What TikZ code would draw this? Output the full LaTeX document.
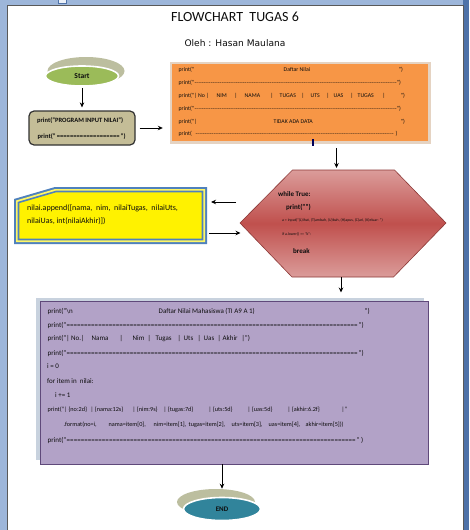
\documentclass[tikz,border=0pt]{standalone}
\usepackage{fontspec}
\setmainfont{Carlito}
\newfontfamily\dejavu{DejaVu Sans}
\usetikzlibrary{arrows.meta,shapes.geometric,calc}
\definecolor{framebl}{HTML}{9DB6DA}
\definecolor{framedk}{HTML}{4E72A8}
\definecolor{startg}{HTML}{9BBB59}
\definecolor{shad}{HTML}{BCBE9F}
\definecolor{tanc}{HTML}{C4BD97}
\definecolor{orng}{HTML}{F79646}
\definecolor{beige}{HTML}{E5D3C2}
\definecolor{hexmid}{HTML}{C0504D}
\definecolor{hexlt}{HTML}{DB9C9A}
\definecolor{hexbd}{HTML}{8C3836}
\definecolor{ybl}{HTML}{4F81BD}
\definecolor{purp}{HTML}{B2A2C7}
\definecolor{purbd}{HTML}{5F497A}
\definecolor{pshad}{HTML}{C8D2DE}
\definecolor{tealc}{HTML}{31849B}
\definecolor{txt}{HTML}{0D0D0D}
\newcommand\po[2]{\rlap{\hspace*{#1pt}#2}}
\newcommand\fillc[2]{\xleaders\hbox{#2}\hskip #1pt\relax}
\newcommand\fo{\fontsize{5.8}{6.5}\selectfont}
\newcommand\fp{\fontsize{7}{8}\selectfont}
\newcommand\fps{\fontsize{6.2}{7}\selectfont}
\tikzset{
  tl/.style={anchor=west, inner sep=0pt, text=txt},
  arr/.style={-{Stealth[length=5pt,width=4.5pt]}, line width=0.9pt, black},
}
\begin{document}
\begin{tikzpicture}[x=1pt,y=-1pt]
\useasboundingbox (0,0) rectangle (469,530);
% window frame
\fill[framebl] (0,0) rectangle (469,530);
\fill[framedk] (463,0) rectangle (469,530);
\fill[white] (8,6) rectangle (463,530);
\draw[black!65, line width=0.7pt] (7.6,530) -- (7.6,5.6) -- (463.4,5.6) -- (463.4,530);
\draw[framedk, fill=white!80!framebl, line width=0.6pt] (58.5,-1) rectangle (66.5,3);

% titles
\node[text=txt, font=\fontsize{14}{15}\selectfont] (title) at (235,17) {FLOWCHART\ \ TUGAS 6};
\node[text=txt, font=\dejavu\fontsize{9.1}{10}\selectfont] (oleh) at (235,43.5) {Oleh : Hasan Maulana};

% start
\node[ellipse, fill=shad, minimum width=77pt, minimum height=28pt, inner sep=0pt] (startsh) at (86,71) {};
\node[ellipse, fill=startg, draw=white, line width=1.6pt, minimum width=73pt, minimum height=20pt, inner sep=0pt,
      text=txt, font=\bfseries\fontsize{7.5}{8}\selectfont] (start) at (82,76) {Start};

% input box
\node[draw=black!80, line width=1.2pt, rounded corners=5pt, fill=tanc, minimum width=106pt, minimum height=34pt, inner sep=0pt] (inbox) at (82,128) {};
\node[tl, font=\bfseries\fontsize{6.5}{7}\selectfont] (i1) at (37,121) {print("PROGRAM INPUT NILAI")};
\node[tl, font=\bfseries\fontsize{6.5}{7}\selectfont] (i2) at (37,137) {\po{0}{print("}\po{19}{\fillc{63}{=}}\po{83}{")}};

% orange box
\node[fill=beige, minimum width=261pt, minimum height=82pt, inner sep=0pt] (orangesh) at (300.5,103) {};
\node[fill=orng, minimum width=256pt, minimum height=77pt, inner sep=0pt] (orange) at (300,102.5) {};
\node[tl, font=\fo] (o1) at (178,70) {\po{0}{print("}\po{105}{Daftar Nilai}\po{220}{")}};
\node[tl, font=\fo] (o2) at (178,83) {\po{0}{print("}\po{16}{\fillc{202}{-}}\po{218}{")}};
\node[tl, font=\fo] (o3) at (178,96) {\po{0}{print("| No\ |}\po{38}{NIM}\po{56}{|}\po{66}{NAMA}\po{92}{|}\po{101}{TUGAS}\po{123}{|}\po{132}{UTS}\po{148}{|}\po{155}{UAS}\po{172}{|}\po{179}{TUGAS}\po{204}{|}\po{222}{")}};
\node[tl, font=\fo] (o4) at (178,108.5) {\po{0}{print("}\po{16}{\fillc{202}{-}}\po{218}{")}};
\node[tl, font=\fo] (o5) at (178,121.5) {\po{0}{print("|}\po{95}{TIDAK ADA DATA}\po{222}{")}};
\node[tl, font=\fo] (o6) at (178,134) {\po{0}{print(}\po{17}{\fillc{198}{-}}\po{217}{)}};
\draw[blue!35!black, line width=1.3pt] (313,139) -- (313,146);

% hexagon
\coordinate (hA) at (240,223);
\coordinate (hB) at (292.5,170);
\coordinate (hC) at (394.5,170);
\coordinate (hD) at (446,223);
\coordinate (hE) at (393.5,277);
\coordinate (hF) at (292,277);
\shade[top color=hexlt, bottom color=hexlt, middle color=hexmid] (hA) -- (hB) -- (hC) -- (hD) -- (hE) -- (hF) -- cycle;
\draw[hexbd, line width=0.6pt] (hA) -- (hB) -- (hC) -- (hD) -- (hE) -- (hF) -- cycle;
\node[inner sep=0pt] (hex) at (343,223) {};
\node[tl, font=\bfseries\fontsize{7}{8}\selectfont] (h1) at (278,194) {while True:};
\node[tl, font=\bfseries\fontsize{7}{8}\selectfont] (h2) at (286,207) {print("")};
\node[tl, font=\fontsize{3.9}{4.5}\selectfont] (h3) at (282,220.5) {a = input("(L)ihat, (T)ambah, (U)bah, (H)apus, (C)ari, (K)eluar: ")};
\node[tl, font=\fontsize{3.9}{4.5}\selectfont] (h4) at (282,234) {if a.lower() == "k":};
\node[tl, font=\bfseries\fontsize{7}{8}\selectfont] (h5) at (293,251) {break};

% yellow box
\fill[ybl] (14,199) -- (55,187) -- (207,187) -- (207,244) -- (14,244) -- cycle;
\fill[white!40!yellow] (16,200.5) -- (55.3,189) -- (205,189) -- (205,242) -- (16,242) -- cycle;
\draw[ybl, line width=1.6pt, fill=yellow] (18.5,202.5) -- (56,191.5) -- (202.5,191.5) -- (202.5,239.5) -- (18.5,239.5) -- cycle;
\node[inner sep=0pt] (yel) at (110,215) {};
\node[tl, font=\fontsize{8}{9}\selectfont] (y1) at (27,208) {nilai.append([nama,\ \ nim,\ \ nilaiTugas,\ \ nilaiUts,};
\node[tl, font=\fontsize{8}{9}\selectfont] (y2) at (27,221) {nilaiUas, int(nilaiAkhir)])};

% purple box
\fill[pshad] (36,298) rectangle (424,460);
\node[draw=purbd, line width=1pt, fill=purp, minimum width=388pt, minimum height=163pt, inner sep=0pt] (purple) at (234,382.5) {};
\node[tl, font=\fp] (p1) at (47,311) {\po{0}{print("\textbackslash n}\po{111}{Daftar Nilai Mahasiswa (TI A9 A 1)}\po{317}{")}};
\node[tl, font=\fp] (p2) at (47,325) {\po{0}{print("}\po{19}{\fillc{291}{=}}\po{311}{")}};
\node[tl, font=\fp] (p3) at (47,338.5) {\po{0}{print("| No.|}\po{44}{Nama}\po{72}{|}\po{85}{Nim}\po{100}{|}\po{108}{Tugas}\po{130}{|}\po{136}{Uts}\po{150}{|}\po{156}{Uas}\po{170}{|}\po{175}{Akhir}\po{194}{|")}};
\node[tl, font=\fp] (p4) at (47,353) {\po{0}{print("}\po{19}{\fillc{291}{=}}\po{311}{")}};
\node[tl, font=\fp] (p5) at (47,366.5) {i = 0};
\node[tl, font=\fp] (p6) at (47,381) {for item in\ \ nilai:};
\node[tl, font=\fp] (p7) at (55,395.5) {i += 1};
\node[tl, font=\fps] (p8) at (47,410) {\po{0}{print("| \{no:2d\}}\po{43}{| \{nama:12s\}}\po{85}{| \{nim:9s\}}\po{116}{| \{tugas:7d\}}\po{161}{| \{uts:5d\}}\po{200}{| \{uas:5d\}}\po{240}{| \{akhir:6.2f\}}\po{294}{|"}};
\node[tl, font=\fps] (p9) at (63,424.5) {\po{0}{.format(no=i,}\po{45}{nama=item[0],}\po{90}{nim=item[1],}\po{125}{tugas=item[2],}\po{168}{uts=item[3],}\po{205}{uas=item[4],}\po{242}{akhir=item[5]))}};
\node[tl, font=\fp] (p10) at (47,440) {\po{0}{print("}\po{19}{\fillc{289}{=}}\po{309}{" )}};

% end
\node[ellipse, fill=shad, minimum width=78pt, minimum height=26pt, inner sep=0pt] (endsh) at (216,502) {};
\node[ellipse, fill=tealc, draw=white, line width=1.6pt, minimum width=77pt, minimum height=23pt, inner sep=0pt,
      text=txt, font=\bfseries\fontsize{7}{8}\selectfont] (endn) at (222,509) {END};

% connectors
\coordinate (ohx) at (336.5,148);
\coordinate (hxtop) at (336.5,170);
\coordinate (hl1) at (236,202);
\coordinate (yr1) at (211,202);
\coordinate (yr2) at (209,233);
\coordinate (hl2) at (240.5,233);
\coordinate (hxb) at (341,277);
\coordinate (pb) at (222,464);
\draw[arr, shorten <=1pt, shorten >=3pt] (start) -- (inbox);
\draw[arr, shorten <=4pt, shorten >=9pt] (inbox.east) -- (inbox.east -| orange.west);
\draw[arr, shorten >=2pt] (ohx) -- (hxtop);
\draw[arr] (hl1) -- (yr1);
\draw[arr] (yr2) -- (hl2);
\draw[arr, shorten >=8pt] (hxb) -- (hxb |- purple.north);
\draw[arr, shorten >=8pt] (pb) -- (endn.north);
\end{tikzpicture}
\end{document}
